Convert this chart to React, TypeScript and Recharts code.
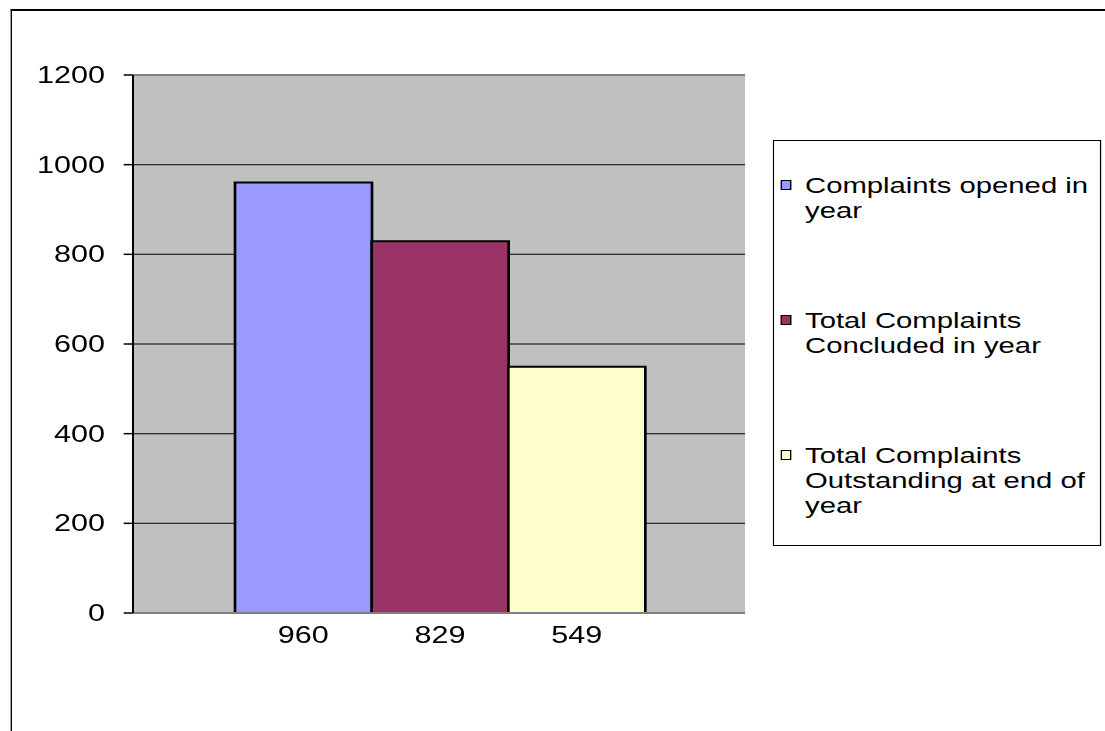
import React from "react";
import { BarChart, Bar, XAxis, YAxis, CartesianGrid, Legend, ReferenceLine } from "recharts";

const categories = ["960", "829", "549"];
const seriesKeys = ["opened", "concluded", "outstanding"];
const seriesNames = [
  "Complaints opened in year",
  "Total Complaints Concluded in year",
  "Total Complaints Outstanding at end of year",
];
const seriesValues = [960, 829, 549];
const seriesColors = ["#9999FF", "#993366", "#FFFFCC"];
const yTicks = [0, 200, 400, 600, 800, 1000, 1200];

const data = categories.map((c, i) => {
  const row: Record<string, any> = { category: c };
  row[seriesKeys[i]] = seriesValues[i];
  return row;
});

const S = 1.33;
const W = 1105 / S;
const FONT = "'Liberation Sans', Arial, sans-serif";

const LegendBox = (props: any) => {
  const payload = props.payload || [];
  return (
    <div
      style={{
        border: "1px solid #000",
        background: "#fff",
        boxSizing: "border-box",
        height: 406,
        paddingTop: 31.5,
        paddingLeft: 5,
        fontFamily: FONT,
        fontSize: 22,
        lineHeight: "25px",
        color: "#000",
      }}
    >
      {payload.map((p: any, i: number) => (
        <div key={i} style={{ display: "flex", alignItems: "flex-start", height: i < 2 ? 135 : 75 }}>
          <div
            style={{
              width: 8.3,
              height: 10,
              marginTop: 7.5,
              boxSizing: "border-box",
              border: "1.5px solid #000",
              background: p.color,
              flex: "0 0 auto",
            }}
          />
          <div style={{ marginLeft: 9.8, width: 221.5, textAlign: "left" }}>{p.value}</div>
        </div>
      ))}
    </div>
  );
};

export default function App() {
  return (
    <div style={{ position: "fixed", left: 0, top: 0, width: 1105, height: 731, overflow: "hidden", background: "#fff" }}>
      <div
        style={{
          position: "absolute",
          left: 0,
          top: 0,
          width: W,
          height: 731,
          transform: `scaleX(${S})`,
          transformOrigin: "0 0",
        }}
      >
        <div
          style={{
            position: "absolute",
            left: 7.5,
            top: 9,
            width: 2000,
            height: 2000,
            borderTop: "2px solid #000",
            borderLeft: "1.5px solid #000",
          }}
        />
        <div style={{ position: "absolute", left: 0, top: 0 }}>
          <BarChart
            width={W}
            height={731}
            data={data}
            margin={{ top: 75, right: W - 560.2, bottom: 88, left: 0 }}
            barCategoryGap={0}
            barGap={0}
          >
            <CartesianGrid vertical={false} stroke="#000" fill="#C0C0C0" fillOpacity={1} />
            <XAxis
              dataKey="category"
              tickLine={false}
              tickSize={0}
              tickMargin={14}
              axisLine={{ stroke: "#808080", strokeWidth: 2 }}
              padding={{ left: 76.7, right: 75.2 }}
              tick={{ fontSize: 23, fill: "#000", fontFamily: FONT }}
              height={30}
            />
            <YAxis
              domain={[0, 1200]}
              ticks={yTicks}
              width={100}
              tickSize={7}
              tickMargin={14}
              axisLine={{ stroke: "#000", strokeWidth: 1.5 }}
              tickLine={{ stroke: "#000", strokeWidth: 1.5 }}
              tick={{ fontSize: 23, fill: "#000", fontFamily: FONT }}
              interval={0}
            />
            <YAxis
              yAxisId="r"
              orientation="right"
              domain={[0, 1200]}
              width={0}
              tick={false}
              tickLine={false}
              axisLine={{ stroke: "#808080", strokeWidth: 2 }}
            />
            <ReferenceLine y={1200} stroke="#808080" strokeWidth={2} />
            {seriesKeys.map((k, i) => (
              <Bar
                key={k}
                dataKey={k}
                name={seriesNames[i]}
                stackId="s"
                fill={seriesColors[i]}
                stroke="#000"
                strokeWidth={2}
                isAnimationActive={false}
              />
            ))}
            <Legend
              layout="vertical"
              align="center"
              verticalAlign="middle"
              content={<LegendBox />}
              wrapperStyle={{ left: 581.2, top: 140, width: 246.6, height: 406 }}
            />
          </BarChart>
        </div>
      </div>
    </div>
  );
}
